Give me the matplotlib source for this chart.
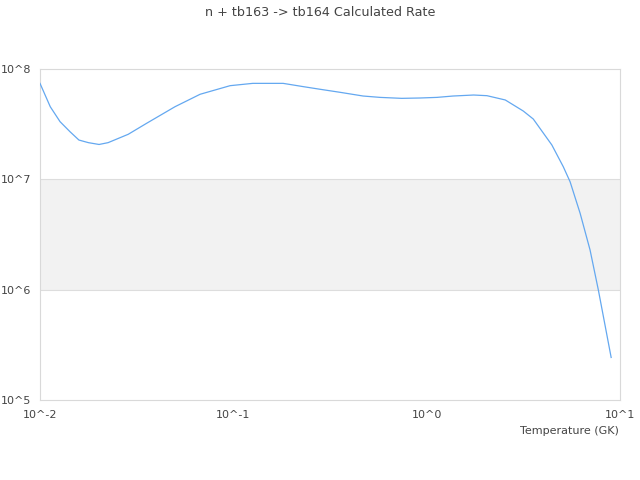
import matplotlib
matplotlib.use("Agg")
import matplotlib.pyplot as plt
from matplotlib.ticker import FixedLocator, FixedFormatter

title = "n + tb163 -> tb164 Calculated Rate"
xlabel = "Temperature (GK)"

temperature = [0.01, 0.0113, 0.0127, 0.0143, 0.0159, 0.0178, 0.0202, 0.0225,
               0.0286, 0.0356, 0.0499, 0.0673, 0.0962, 0.126, 0.181, 0.230,
               0.281, 0.356, 0.469, 0.574, 0.743, 0.925, 1.13, 1.37, 1.75,
               2.05, 2.55, 3.16, 3.56, 4.44, 5.09, 5.52, 6.22, 7.0, 7.73, 9.0]
rate = [7.41e7, 4.55e7, 3.33e7, 2.70e7, 2.27e7, 2.15e7, 2.07e7, 2.15e7,
        2.56e7, 3.22e7, 4.55e7, 5.90e7, 7.06e7, 7.41e7, 7.41e7, 6.92e7,
        6.55e7, 6.15e7, 5.69e7, 5.53e7, 5.42e7, 5.46e7, 5.53e7, 5.69e7,
        5.81e7, 5.73e7, 5.24e7, 4.16e7, 3.52e7, 2.05e7, 1.30e7, 9.5e6,
        4.92e6, 2.29e6, 9.9e5, 2.43e5]

xticks = [1e-2, 1e-1, 1e0, 1e1]
xticklabels = ["10^-2", "10^-1", "10^0", "10^1"]
yticks = [1e5, 1e6, 1e7, 1e8]
yticklabels = ["10^5", "10^6", "10^7", "10^8"]

text_color = "#444444"
fig = plt.figure(figsize=(6.4, 4.8), dpi=100)
ax = fig.add_axes([40/640, 1-400/480, 580/640, 331/480])
ax.set_xscale("log")
ax.set_yscale("log")
ax.set_xlim(1e-2, 1e1)
ax.set_ylim(1e5, 1e8)

ax.axhspan(1e6, 1e7, color="#f2f2f2", zorder=0, lw=0)
for y in [1e6, 1e7]:
    ax.axhline(y, color="#dddddd", lw=0.8, zorder=1)

ax.plot(temperature, rate, color="#64a8f0", lw=0.9, zorder=3)

ax.xaxis.set_major_locator(FixedLocator(xticks))
ax.xaxis.set_major_formatter(FixedFormatter(xticklabels))
ax.yaxis.set_major_locator(FixedLocator(yticks))
ax.yaxis.set_major_formatter(FixedFormatter(yticklabels))
ax.xaxis.set_minor_locator(FixedLocator([]))
ax.yaxis.set_minor_locator(FixedLocator([]))
ax.tick_params(axis="both", length=0, labelsize=8, labelcolor=text_color)
ax.tick_params(axis="x", pad=7.5)
ax.tick_params(axis="y", pad=6.5)

for s in ax.spines.values():
    s.set_color("#d9d9d9")
    s.set_linewidth(0.8)

fig.text(0.5, 1-12/480, title, ha="center", va="center", fontsize=9.2, color=text_color)
fig.text(619/640, 1-431/480, xlabel, ha="right", va="center", fontsize=8, color=text_color)

fig.savefig("out.png", dpi=100)
